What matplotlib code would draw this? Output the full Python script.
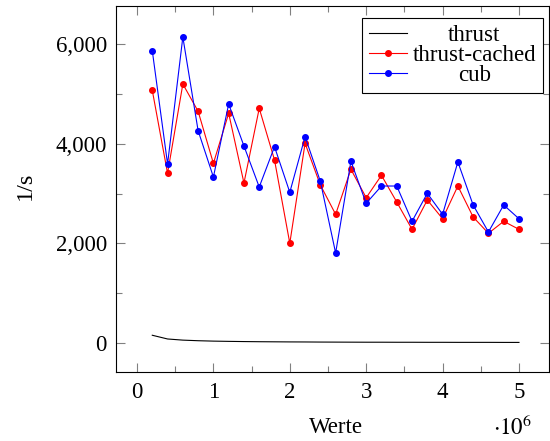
import numpy as np
import matplotlib
matplotlib.use('Agg')
import matplotlib.pyplot as plt
from matplotlib.ticker import FuncFormatter, MultipleLocator

plt.rcParams['font.family'] = ['Liberation Serif', 'DejaVu Serif']
plt.rcParams['mathtext.fontset'] = 'stix'

# Input sizes (number of values)
werte = [200000, 400000, 600000, 800000, 1000000, 1200000, 1400000, 1600000,
         1800000, 2000000, 2200000, 2400000, 2600000, 2800000, 3000000,
         3200000, 3400000, 3600000, 3800000, 4000000, 4200000, 4400000,
         4600000, 4800000, 5000000]

# Runs per second
thrust = [150, 75, 52, 40, 32, 27, 23, 20, 18, 16, 15, 13, 12, 11, 10,
          10, 9, 9, 8, 8, 7, 7, 7, 6, 6]
thrust_cached = [5075, 3406, 5202, 4653, 3607, 4613, 3211, 4713, 3674, 2000,
                 4010, 3171, 2582, 3487, 2916, 3366, 2829, 2280, 2870, 2493,
                 3151, 2528, 2200, 2441, 2280]
cub = [5872, 3593, 6147, 4263, 3332, 4800, 3955, 3131, 3941, 3024,
       4143, 3245, 1804, 3648, 2803, 3151, 3151, 2441, 3004, 2582,
       3634, 2769, 2226, 2769, 2493]

x = np.array(werte) / 1e6
fs = 16.5

fig = plt.figure(figsize=(5.5, 4.41), dpi=100)
ax = fig.add_axes([116/550, 1 - 372/441, 433/550, 366/441])

ax.plot(x, thrust, color='black', lw=0.8, label='thrust')
ax.plot(x, thrust_cached, color='red', lw=0.8, marker='o', ms=4,
        label='thrust-cached')
ax.plot(x, cub, color='blue', lw=0.8, marker='o', ms=4, label='cub')

ax.set_xlim(-0.275, 5.393)
ax.set_ylim(-589, 6771)

ax.xaxis.set_major_locator(MultipleLocator(1))
ax.xaxis.set_minor_locator(MultipleLocator(0.5))
ax.yaxis.set_major_locator(MultipleLocator(2000))
ax.yaxis.set_minor_locator(MultipleLocator(1000))
ax.yaxis.set_major_formatter(FuncFormatter(lambda v, p: f'{v:,.0f}'))

ax.tick_params(which='both', direction='in', top=True, right=True,
               color='0.5', width=0.8, labelsize=fs)
ax.tick_params(which='major', length=6.5)
ax.tick_params(which='minor', length=4.3)
ax.tick_params(axis='x', which='major', pad=7)
ax.tick_params(axis='y', which='major', pad=6.5)
for s in ax.spines.values():
    s.set_linewidth(0.8)

ax.set_xlabel('Werte', fontsize=fs, labelpad=10)
ax.xaxis.label.set_x(0.508)
ax.set_ylabel('1/s', fontsize=fs + 1, labelpad=14)
ax.yaxis.label.set_y(0.51)
fig.text(513/550, 1 - 435/441, r'$\cdot10^6$', fontsize=fs,
         ha='center', va='baseline')

leg = ax.legend(loc='upper right', bbox_to_anchor=(543/550, 1 - 18/441),
                bbox_transform=fig.transFigure, borderaxespad=0,
                fontsize=fs, fancybox=False, framealpha=1,
                edgecolor='black', handlelength=1.65, handletextpad=0.25,
                labelspacing=-0.05, borderpad=0.3)
leg.get_frame().set_linewidth(0.8)

# center the legend entries within their column
fig.canvas.draw()
r = fig.canvas.get_renderer()
texts = leg.get_texts()
widths = [t.get_window_extent(r).width for t in texts]
wmax = max(widths)
for t, w in zip(texts, widths):
    t.set_position(((wmax - w) / 2, 0))

fig.savefig('out.png', dpi=100)
